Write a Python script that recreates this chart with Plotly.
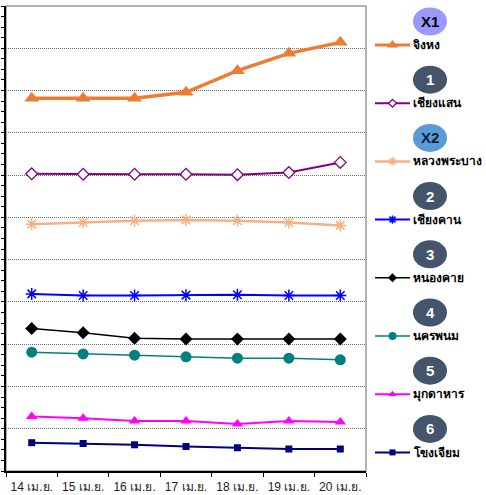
import plotly.graph_objects as go

W, H = 486, 495

dates = ["14 เม.ย.", "15 เม.ย.", "16 เม.ย.", "17 เม.ย.", "18 เม.ย.", "19 เม.ย.", "20 เม.ย."]

jinghong = [8.82, 8.82, 8.82, 8.96, 9.47, 9.88, 10.14]
chiang_saen = [7.03, 7.02, 7.02, 7.02, 7.01, 7.06, 7.30]
luang_prabang = [5.84, 5.88, 5.92, 5.94, 5.92, 5.88, 5.81]
chiang_khan = [4.19, 4.15, 4.15, 4.16, 4.17, 4.15, 4.15]
nong_khai = [3.37, 3.27, 3.14, 3.12, 3.12, 3.12, 3.12]
nakhon_phanom = [2.81, 2.77, 2.74, 2.70, 2.67, 2.67, 2.63]
mukdahan = [1.29, 1.25, 1.18, 1.18, 1.11, 1.18, 1.16]
khong_chiam = [0.67, 0.65, 0.62, 0.58, 0.55, 0.52, 0.52]

station_names = ["จิงหง", "เชียงแสน", "หลวงพระบาง", "เชียงคาน", "หนองคาย", "นครพนม", "มุกดาหาร", "โขงเจียม"]
badge_labels = ["X1", "1", "X2", "2", "3", "4", "5", "6"]

series = [jinghong, chiang_saen, luang_prabang, chiang_khan, nong_khai, nakhon_phanom, mukdahan, khong_chiam]

styles = [
    dict(color="#ED7D31", width=3.5, symbol="triangle-up", size=13, mfill="#ED7D31", mline=0),
    dict(color="#800080", width=2, symbol="diamond", size=9, mfill="white", mline=1.3),
    dict(color="#F4B183", width=2.5, symbol="asterisk-open", size=10, mfill="#F4B183", mline=1.5),
    dict(color="#0000FF", width=2, symbol="asterisk-open", size=10, mfill="#0000FF", mline=1.5),
    dict(color="#000000", width=1.5, symbol="diamond", size=10, mfill="#000000", mline=0),
    dict(color="#008080", width=1.5, symbol="circle", size=11, mfill="#008080", mline=0),
    dict(color="#FF00FF", width=2, symbol="triangle-up", size=10, mfill="#FF00FF", mline=0),
    dict(color="#000080", width=2, symbol="square", size=7, mfill="#000080", mline=0),
]
badge_colors = ["#9999FF", "#44546A", "#5B9BD5", "#44546A", "#44546A", "#44546A", "#44546A", "#44546A"]
badge_text_colors = ["#000000", "#FFFFFF", "#0D1F3C", "#FFFFFF", "#FFFFFF", "#FFFFFF", "#FFFFFF", "#FFFFFF"]

FONT = "Tahoma, 'DejaVu Sans', 'Noto Sans', sans-serif"

fig = go.Figure()

for name, vals, st in zip(station_names, series, styles):
    fig.add_trace(go.Scatter(
        x=dates, y=vals, mode="lines+markers", name=name,
        line=dict(color=st["color"], width=st["width"]),
        marker=dict(symbol=st["symbol"], size=st["size"], color=st["mfill"],
                    line=dict(color=st["color"], width=st["mline"])),
        showlegend=False, xaxis="x", yaxis="y",
    ))

# custom legend in pixel-coordinate overlay axes
row0, step = 45, 58.2
shapes = []
annotations = []
for i, (name, st, bl, bc, btc) in enumerate(zip(station_names, styles, badge_labels, badge_colors, badge_text_colors)):
    ly = row0 + step * i
    fig.add_trace(go.Scatter(
        x=[375, 410], y=[ly, ly], mode="lines",
        line=dict(color=st["color"], width=min(st["width"], 3)),
        showlegend=False, hoverinfo="skip", xaxis="x2", yaxis="y2",
    ))
    fig.add_trace(go.Scatter(
        x=[392.5], y=[ly], mode="markers",
        marker=dict(symbol=st["symbol"], size=max(st["size"] - 3, 6), color=st["mfill"],
                    line=dict(color=st["color"], width=st["mline"])),
        showlegend=False, hoverinfo="skip", xaxis="x2", yaxis="y2",
    ))
    annotations.append(dict(x=411, y=ly, xref="x2", yref="y2", text="<b>%s</b>" % name, showarrow=False,
                            xanchor="left", yanchor="middle",
                            font=dict(family=FONT, size=12, color="#000000")))
    by = ly - 23.5
    shapes.append(dict(type="circle", xref="x2", yref="y2", x0=430 - 17, x1=430 + 17,
                       y0=by - 14, y1=by + 14, fillcolor=bc, line=dict(width=0), layer="below"))
    annotations.append(dict(x=430, y=by, xref="x2", yref="y2", text="<b>%s</b>" % bl, showarrow=False,
                            xanchor="center", yanchor="middle",
                            font=dict(family="Arial, 'Liberation Sans', sans-serif", size=15, color=btc)))

# plot area border (top/right gray)
x0p, x1p = 6 / W, 366 / W
y0p, y1p = 1 - 471 / H, 1 - 6 / H
shapes.append(dict(type="rect", xref="paper", yref="paper", x0=x0p, x1=x1p, y0=y0p, y1=y1p,
                   line=dict(color="#9A9A9A", width=1.5), layer="below"))

fig.update_layout(
    width=W, height=H,
    margin=dict(l=0, r=0, t=0, b=0),
    paper_bgcolor="white", plot_bgcolor="rgba(0,0,0,0)",
    showlegend=False,
    xaxis=dict(domain=[x0p, x1p], anchor="y", type="category", tickson="boundaries",
               ticks="outside", ticklen=4, tickcolor="black", tickwidth=1,
               showline=True, linecolor="black", linewidth=1.5, showgrid=False, zeroline=False,
               range=[-0.5, 6.5], ticklabelstandoff=4,
               tickfont=dict(family="Arial, 'Liberation Sans', " + FONT, size=12, color="#222222")),
    yaxis=dict(domain=[y0p, y1p], anchor="x", range=[0, 11], dtick=1, tick0=0,
               showticklabels=False, ticks="outside", ticklen=3, tickcolor="black",
               showline=True, linecolor="black", linewidth=1.5,
               showgrid=True, gridcolor="#6E6E6E", griddash="1px,1px", gridwidth=1, zeroline=False,
               minor=dict(dtick=0.25, ticks="outside", ticklen=3, tickcolor="black", showgrid=False)),
    xaxis2=dict(domain=[0, 1], anchor="y2", range=[0, W], visible=False, fixedrange=True),
    yaxis2=dict(domain=[0, 1], anchor="x2", range=[H, 0], visible=False, fixedrange=True),
    shapes=shapes,
    annotations=annotations,
)

fig.write_html("out.html", config={"displayModeBar": False},
               post_script="document.body.style.margin='0';document.body.style.overflow='hidden';")
